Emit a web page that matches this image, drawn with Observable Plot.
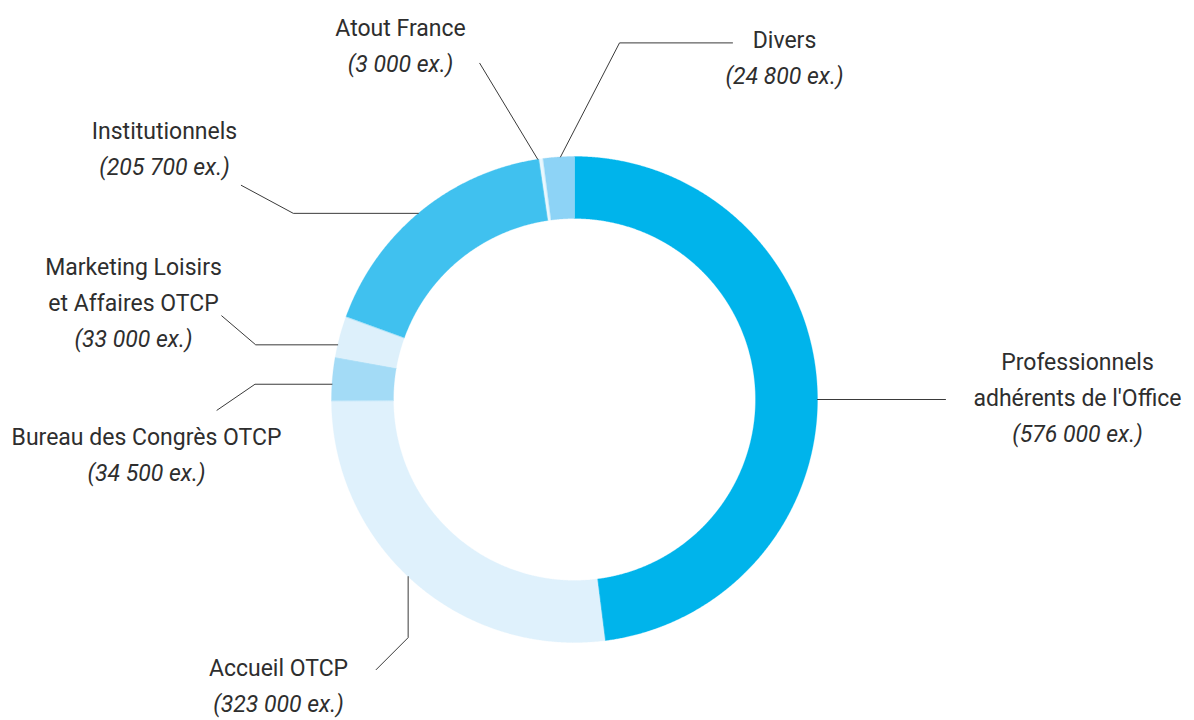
<!DOCTYPE html>
<html>
<head>
<meta charset="utf-8">
<script src="https://cdn.jsdelivr.net/npm/d3@7"></script>
<script src="https://cdn.jsdelivr.net/npm/@observablehq/plot@0.6"></script>
<style>
  html, body { margin: 0; padding: 0; background: #fff; }
  #chart svg { display: block; }
</style>
</head>
<body>
<div id="chart"></div>
<script>
// ---- data ----
const categories = [
  "Professionnels\nadhérents de l'Office",
  "Accueil OTCP",
  "Bureau des Congrès OTCP",
  "Marketing Loisirs\net Affaires OTCP",
  "Institutionnels",
  "Atout France",
  "Divers"
];
const values = [576000, 323000, 34500, 33000, 205700, 3000, 24800];

// ---- styles / layout ----
const colors = ["#00b4eb", "#dff1fc", "#a3dbf6", "#ddf0fb", "#40c1ef", "#eaf7fd", "#8dd3f6"];
const center = {x: 574, y: 399};
const outerR = 243, innerR = 181;
const lineGap = 36;
// label text position (centre of first line)
const textPos = [[1077, 362], [278, 668], [146, 437], [133, 267], [164, 131], [400, 28], [784, 40]];
// leader lines: anchor angle on outer ring (deg, clockwise from top) + successive offsets
const leaderLayout = [
  {deg: 90, segs: [[128, 0]]},
  {deg: 223.2, segs: [[0, 61], [-32, 32]]},
  {deg: 273.6, segs: [[-77, 0], [-38, 26]]},
  {deg: 283, segs: [[-82, 0], [-34, -29]]},
  {deg: 320, segs: [[-125, 0], [-52, -28]]},
  {deg: 351.3, segs: [[-58, -96]]},
  {deg: 356.7, segs: [[59, -114], [113, 0]]}
];

const fr = d3.formatLocale({decimal: ",", thousands: "\u00a0", grouping: [3], currency: ["", " €"]});
const fmt = fr.format(",d");

// ---- geometry ----
const pie = d3.pie().sort(null).value(d => d)(values);
const pt = (a, r) => [center.x + r * Math.sin(a), center.y - r * Math.cos(a)];
const arcPts = [];
pie.forEach((s, i) => {
  const a0 = s.startAngle, a1 = s.endAngle;
  const n = Math.max(2, Math.ceil((a1 - a0) / (Math.PI / 720)));
  for (let k = 0; k <= n; k++) {
    const [x, y] = pt(a0 + (a1 - a0) * k / n, outerR);
    arcPts.push({cat: categories[i], x, y});
  }
  for (let k = n; k >= 0; k--) {
    const [x, y] = pt(a0 + (a1 - a0) * k / n, innerR);
    arcPts.push({cat: categories[i], x, y});
  }
});

const leaderPts = [];
leaderLayout.forEach((L, i) => {
  let [x, y] = pt(L.deg * Math.PI / 180, outerR);
  leaderPts.push({cat: categories[i], x, y});
  L.segs.forEach(([dx, dy]) => { x += dx; y += dy; leaderPts.push({cat: categories[i], x, y}); });
});

const textLines = [];
categories.forEach((c, i) => {
  const lines = c.split("\n");
  const [tx, ty] = textPos[i];
  lines.forEach((l, k) => textLines.push({text: l, x: tx, y: ty + k * lineGap, italic: false}));
  textLines.push({text: "(" + fmt(values[i]) + " ex.)", x: tx, y: ty + lines.length * lineGap, italic: true});
});

const chart = Plot.plot({
  width: 1194,
  height: 720,
  margin: 0,
  x: {domain: [0, 1194], range: [0, 1194], axis: null},
  y: {domain: [0, 720], range: [0, 720], axis: null},
  color: {domain: categories, range: colors},
  style: {fontFamily: "Roboto, sans-serif", background: "#fff"},
  marks: [
    Plot.line(arcPts, {x: "x", y: "y", z: "cat", fill: "cat", stroke: "cat", strokeWidth: 0.3, curve: "linear-closed"}),
    Plot.line(leaderPts, {x: "x", y: "y", z: "cat", stroke: "#3a3a3a", strokeWidth: 1}),
    Plot.text(textLines.filter(d => !d.italic), {x: "x", y: "y", text: "text", fontSize: 23, fill: "#2e2e2e", textAnchor: "middle", lineAnchor: "middle"}),
    Plot.text(textLines.filter(d => d.italic), {x: "x", y: "y", text: "text", fontSize: 23, fontStyle: "italic", fill: "#2e2e2e", textAnchor: "middle", lineAnchor: "middle"})
  ]
});
document.getElementById("chart").appendChild(chart);
</script>
</body>
</html>
